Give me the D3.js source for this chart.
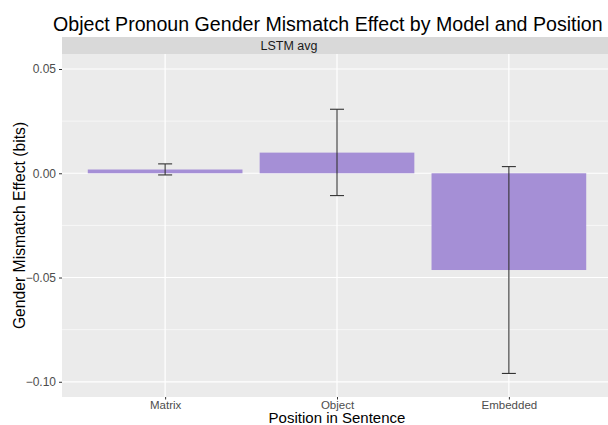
<!DOCTYPE html>
<html>
<head>
<meta charset="utf-8">
<script src="https://cdn.jsdelivr.net/npm/d3@7"></script>
<style>
  html, body { margin: 0; padding: 0; background: #fff; }
  svg { display: block; font-family: "Liberation Sans", Arial, Helvetica, sans-serif; }
</style>
</head>
<body>
<svg id="chart" width="608" height="425"></svg>
<script>
// ---- data ----
const categories = ["Matrix", "Object", "Embedded"];
const values = [0.0018, 0.0099, -0.0464];
const errLower = [-0.0008, -0.0107, -0.0960];
const errUpper = [0.0045, 0.0307, 0.0032];
const yTicks = [0.05, 0.00, -0.05, -0.10];
const yMinor = [0.025, -0.025, -0.075];
const facetLabel = "LSTM avg";
const title = "Object Pronoun Gender Mismatch Effect by Model and Position";
const xTitle = "Position in Sentence";
const yTitle = "Gender Mismatch Effect (bits)";

// ---- layout ----
const svg = d3.select("#chart");
const panel = { left: 62, right: 612, top: 54, bottom: 397 };
const strip = { top: 37, bottom: 54 };

// discrete axis with ggplot-like 0.6 expansion on each side
const x = d3.scalePoint()
  .domain(categories)
  .range([panel.left, panel.right])
  .padding(0.6);
const cx = c => x(c);
const barW = x.step() * 0.9;

const y = d3.scaleLinear()
  .domain([-0.1073, 0.0572])
  .range([panel.bottom, panel.top]);

// panel background
svg.append("rect")
  .attr("x", panel.left).attr("y", panel.top)
  .attr("width", panel.right - panel.left).attr("height", panel.bottom - panel.top)
  .attr("fill", "#EBEBEB");

// minor grid
svg.append("g").selectAll("line").data(yMinor).join("line")
  .attr("x1", panel.left).attr("x2", panel.right)
  .attr("y1", d => y(d)).attr("y2", d => y(d))
  .attr("stroke", "#fff").attr("stroke-width", 0.6);

// major grid
svg.append("g").selectAll("line").data(yTicks).join("line")
  .attr("x1", panel.left).attr("x2", panel.right)
  .attr("y1", d => y(d)).attr("y2", d => y(d))
  .attr("stroke", "#fff").attr("stroke-width", 1.2);
svg.append("g").selectAll("line").data(categories).join("line")
  .attr("x1", d => cx(d)).attr("x2", d => cx(d))
  .attr("y1", panel.top).attr("y2", panel.bottom)
  .attr("stroke", "#fff").attr("stroke-width", 1.2);

// bars
svg.append("g").selectAll("rect").data(categories).join("rect")
  .attr("x", d => cx(d) - barW / 2)
  .attr("width", barW)
  .attr("y", (d, i) => y(Math.max(0, values[i])))
  .attr("height", (d, i) => Math.abs(y(values[i]) - y(0)))
  .attr("fill", "#A58FD6");

// error bars
const capW = 14;
const eg = svg.append("g").attr("stroke", "#333").attr("stroke-width", 1.1);
categories.forEach((c, i) => {
  const xc = cx(c);
  eg.append("line").attr("x1", xc).attr("x2", xc).attr("y1", y(errUpper[i])).attr("y2", y(errLower[i]));
  eg.append("line").attr("x1", xc - capW / 2).attr("x2", xc + capW / 2).attr("y1", y(errUpper[i])).attr("y2", y(errUpper[i]));
  eg.append("line").attr("x1", xc - capW / 2).attr("x2", xc + capW / 2).attr("y1", y(errLower[i])).attr("y2", y(errLower[i]));
});

// strip
svg.append("rect")
  .attr("x", panel.left).attr("y", strip.top)
  .attr("width", panel.right - panel.left).attr("height", strip.bottom - strip.top)
  .attr("fill", "#D9D9D9");
svg.append("text")
  .attr("x", 289).attr("y", 50)
  .attr("text-anchor", "middle")
  .attr("font-size", 12.5).attr("fill", "#1A1A1A")
  .text(facetLabel);

// y axis
const yAxis = d3.axisLeft(y).tickValues(yTicks).tickFormat(d3.format(".2f")).tickSize(3).tickPadding(3);
const yg = svg.append("g").attr("transform", `translate(${panel.left},0)`).call(yAxis);
yg.select(".domain").remove();
yg.selectAll(".tick line").attr("stroke", "#333");
yg.selectAll(".tick text").attr("fill", "#4D4D4D").attr("font-size", 12)
  .attr("font-family", "Liberation Sans, Arial, sans-serif");

// x axis
const xAxis = d3.axisBottom(x).tickSize(2.5).tickPadding(3);
const xg = svg.append("g").attr("transform", `translate(0,${panel.bottom})`).call(xAxis);
xg.select(".domain").remove();
xg.selectAll(".tick line").attr("stroke", "#333");
xg.selectAll(".tick text").attr("fill", "#4D4D4D").attr("font-size", 11.5)
  .attr("font-family", "Liberation Sans, Arial, sans-serif")
  .attr("dy", null).attr("y", 11.5);

// titles
svg.append("text")
  .attr("x", 53).attr("y", 30.5)
  .attr("font-size", 19.6).attr("fill", "#000")
  .text(title);
svg.append("text")
  .attr("x", 337).attr("y", 423)
  .attr("text-anchor", "middle").attr("font-size", 15).attr("fill", "#000")
  .text(xTitle);
svg.append("text")
  .attr("transform", `translate(24.5,${(panel.top + panel.bottom) / 2}) rotate(-90)`)
  .attr("text-anchor", "middle").attr("font-size", 15.7).attr("fill", "#000")
  .text(yTitle);
</script>
</body>
</html>
